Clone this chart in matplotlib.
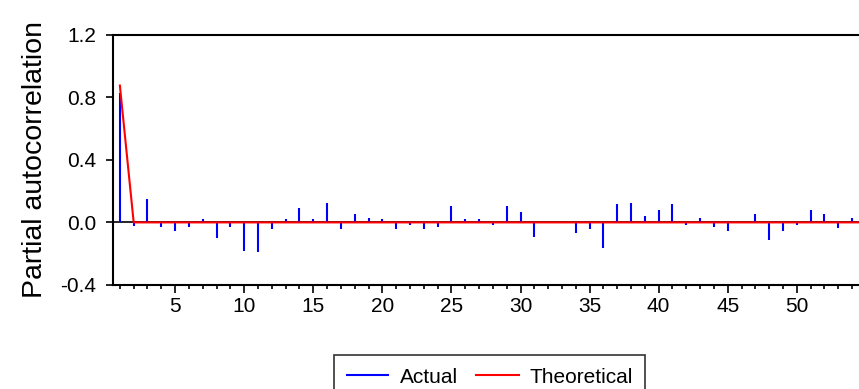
import matplotlib as mpl
import matplotlib.pyplot as plt
from matplotlib.ticker import MultipleLocator

mpl.rcParams["font.family"] = ["Liberation Sans", "DejaVu Sans"]

# lags and partial autocorrelations
lags = list(range(1, 55))
actual = [0.83, -0.02, 0.15, -0.03, -0.056, -0.03, 0.02, -0.10, -0.03, -0.18,
          -0.19, -0.04, 0.02, 0.09, 0.02, 0.127, -0.043, 0.054, 0.03, 0.02,
          -0.043, -0.017, -0.043, -0.03, 0.105, 0.02, 0.02, -0.017, 0.105, 0.067,
          -0.092, 0.005, 0.005, -0.067, -0.043, -0.163, 0.116, 0.127, 0.043, 0.077,
          0.116, -0.017, 0.03, -0.03, -0.056, 0.005, 0.054, -0.114, -0.056, -0.017,
          0.077, 0.054, -0.035, 0.03]
theo_lags = list(range(1, 57))
theoretical = [0.875] + [0.0] * 55

fig = plt.figure(figsize=(8.59, 3.89), dpi=100)
ax = fig.add_axes([0.1315, 0.2674, 0.8685, 0.6434])

ax.axhline(0, color="black", lw=1.2, zorder=1)
ax.vlines(lags, 0, actual, color="#0000ff", lw=1.5, zorder=2, label="Actual")
ax.plot(theo_lags, theoretical, color="#ff0000", lw=1.5, zorder=3, label="Theoretical")

ax.set_xlim(0.5, 54.5)
ax.set_ylim(-0.4, 1.2)
ax.set_yticks([-0.4, 0.0, 0.4, 0.8, 1.2])
ax.set_yticklabels(["-0.4", "0.0", "0.4", "0.8", "1.2"])
ax.xaxis.set_major_locator(MultipleLocator(5))
ax.xaxis.set_minor_locator(MultipleLocator(1))
ax.tick_params(axis="x", which="major", length=6, width=1.2, labelsize=15, pad=3)
ax.tick_params(axis="x", which="minor", length=3, width=1.2)
ax.tick_params(axis="y", length=5, width=1.2, labelsize=15, pad=7)

ax.spines["right"].set_visible(False)
for s in ["left", "bottom", "top"]:
    ax.spines[s].set_linewidth(1.5)

ax.set_ylabel("Partial autocorrelation", fontsize=20.5, labelpad=9)

leg = fig.legend(loc="upper center", bbox_to_anchor=(0.57, 0.0874), ncol=2,
                 fontsize=15, frameon=True, fancybox=False, edgecolor="black",
                 handlelength=2.05, handletextpad=0.5, columnspacing=0.9,
                 borderpad=0.6, borderaxespad=0)
leg.get_frame().set_linewidth(1.2)

fig.savefig("out.png", dpi=100)
